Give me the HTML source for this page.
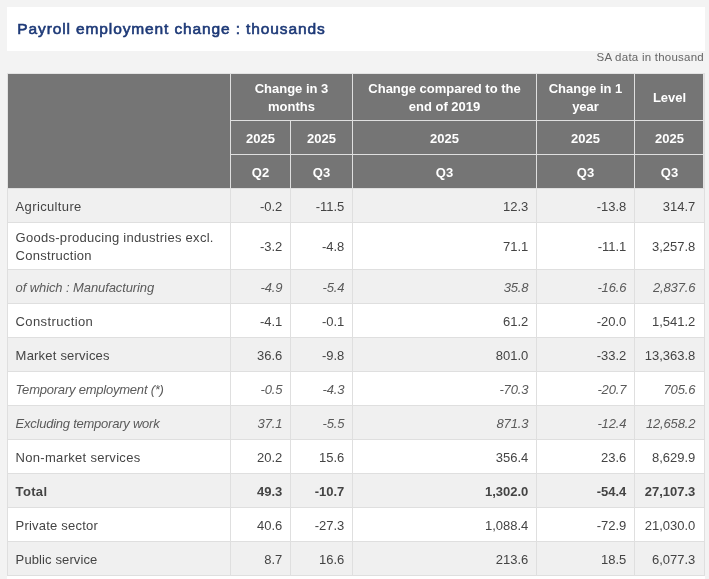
<!DOCTYPE html>
<html><head><meta charset="utf-8">
<style>
html,body{margin:0;padding:0;}
body{width:709px;height:579px;overflow:hidden;background:#f3f3f3;font-family:"Liberation Sans",sans-serif;position:relative;}
.title{position:absolute;left:7px;top:7px;width:698px;height:44px;background:#fff;}
.title h2{margin:0;position:absolute;left:10.3px;top:11px;font-size:15.5px;line-height:22px;font-weight:normal;letter-spacing:.88px;-webkit-text-stroke:.6px #1d3977;color:#1d3977;white-space:nowrap;}
.note{position:absolute;right:5px;top:49px;font-size:11.5px;letter-spacing:.24px;line-height:17px;color:#666;white-space:nowrap;}
.below{position:absolute;left:7px;top:576px;width:698px;height:10px;background:#fff;}
table{position:absolute;left:7px;top:73px;width:697px;border-collapse:collapse;table-layout:fixed;font-size:13px;color:#444;}
th,td{border:1px solid #dfdfdf;padding:0 8px;box-sizing:border-box;}
thead th{background:#757575;color:#fff;font-weight:bold;text-align:center;font-size:13px;line-height:18px;}
thead th{padding-top:2px;}
thead tr.r1 th{height:47px;border-top-color:#e2e2e2;}
thead tr.r1 th:first-child{border-left-color:#e2e2e2;}
.strip{position:absolute;left:703px;top:74px;width:1px;height:114px;background:#e4e4e4;}
thead tr.r2 th,thead tr.r3 th{height:34px;}
tbody td{height:34px;text-align:right;line-height:18px;padding-top:2px;padding-right:7.7px;}
tbody td:last-child{padding-right:8.7px;}
tbody td:first-child{text-align:left;letter-spacing:.33px;padding-left:7.6px;}
tr.it td:first-child{letter-spacing:-.18px;}
tbody tr:nth-child(odd) td{background:#f0f0f0;}
tbody tr:nth-child(even) td{background:#fff;}
tbody tr.tall td{height:47px;}
tr.it td{font-style:italic;color:#5a5a5a;letter-spacing:-.15px;}
tr.b td{font-weight:bold;}
</style></head><body>
<div class="title"><h2>Payroll employment change : thousands</h2></div>
<div class="note">SA data in thousand</div>
<table>
<colgroup><col style="width:223px"><col style="width:60px"><col style="width:62px"><col style="width:184px"><col style="width:98px"><col style="width:70px"></colgroup>
<thead>
<tr class="r1"><th rowspan="3"></th><th colspan="2">Change in 3 months</th><th>Change compared to the end of 2019</th><th>Change in 1 year</th><th>Level</th></tr>
<tr class="r2"><th>2025</th><th>2025</th><th>2025</th><th>2025</th><th>2025</th></tr>
<tr class="r3"><th>Q2</th><th>Q3</th><th>Q3</th><th>Q3</th><th>Q3</th></tr>
</thead>
<tbody>
<tr><td style="letter-spacing:.36px">Agriculture</td><td>-0.2</td><td>-11.5</td><td>12.3</td><td>-13.8</td><td>314.7</td></tr>
<tr class="tall"><td style="letter-spacing:.275px">Goods-producing industries excl. Construction</td><td>-3.2</td><td>-4.8</td><td>71.1</td><td>-11.1</td><td>3,257.8</td></tr>
<tr class="it"><td style="letter-spacing:-.1px">of which : Manufacturing</td><td>-4.9</td><td>-5.4</td><td>35.8</td><td>-16.6</td><td>2,837.6</td></tr>
<tr><td style="letter-spacing:.385px">Construction</td><td>-4.1</td><td>-0.1</td><td>61.2</td><td>-20.0</td><td>1,541.2</td></tr>
<tr><td style="letter-spacing:.21px">Market services</td><td>36.6</td><td>-9.8</td><td>801.0</td><td>-33.2</td><td>13,363.8</td></tr>
<tr class="it"><td style="letter-spacing:-.22px">Temporary employment (*)</td><td>-0.5</td><td>-4.3</td><td>-70.3</td><td>-20.7</td><td>705.6</td></tr>
<tr class="it"><td style="letter-spacing:-.24px">Excluding temporary work</td><td>37.1</td><td>-5.5</td><td>871.3</td><td>-12.4</td><td>12,658.2</td></tr>
<tr><td style="letter-spacing:.3px">Non-market services</td><td>20.2</td><td>15.6</td><td>356.4</td><td>23.6</td><td>8,629.9</td></tr>
<tr class="b"><td>Total</td><td>49.3</td><td>-10.7</td><td>1,302.0</td><td>-54.4</td><td>27,107.3</td></tr>
<tr><td style="letter-spacing:.21px">Private sector</td><td>40.6</td><td>-27.3</td><td>1,088.4</td><td>-72.9</td><td>21,030.0</td></tr>
<tr><td style="letter-spacing:.12px">Public service</td><td>8.7</td><td>16.6</td><td>213.6</td><td>18.5</td><td>6,077.3</td></tr>
</tbody>
</table>
<div class="strip"></div>
<div class="below"></div>
</body></html>
